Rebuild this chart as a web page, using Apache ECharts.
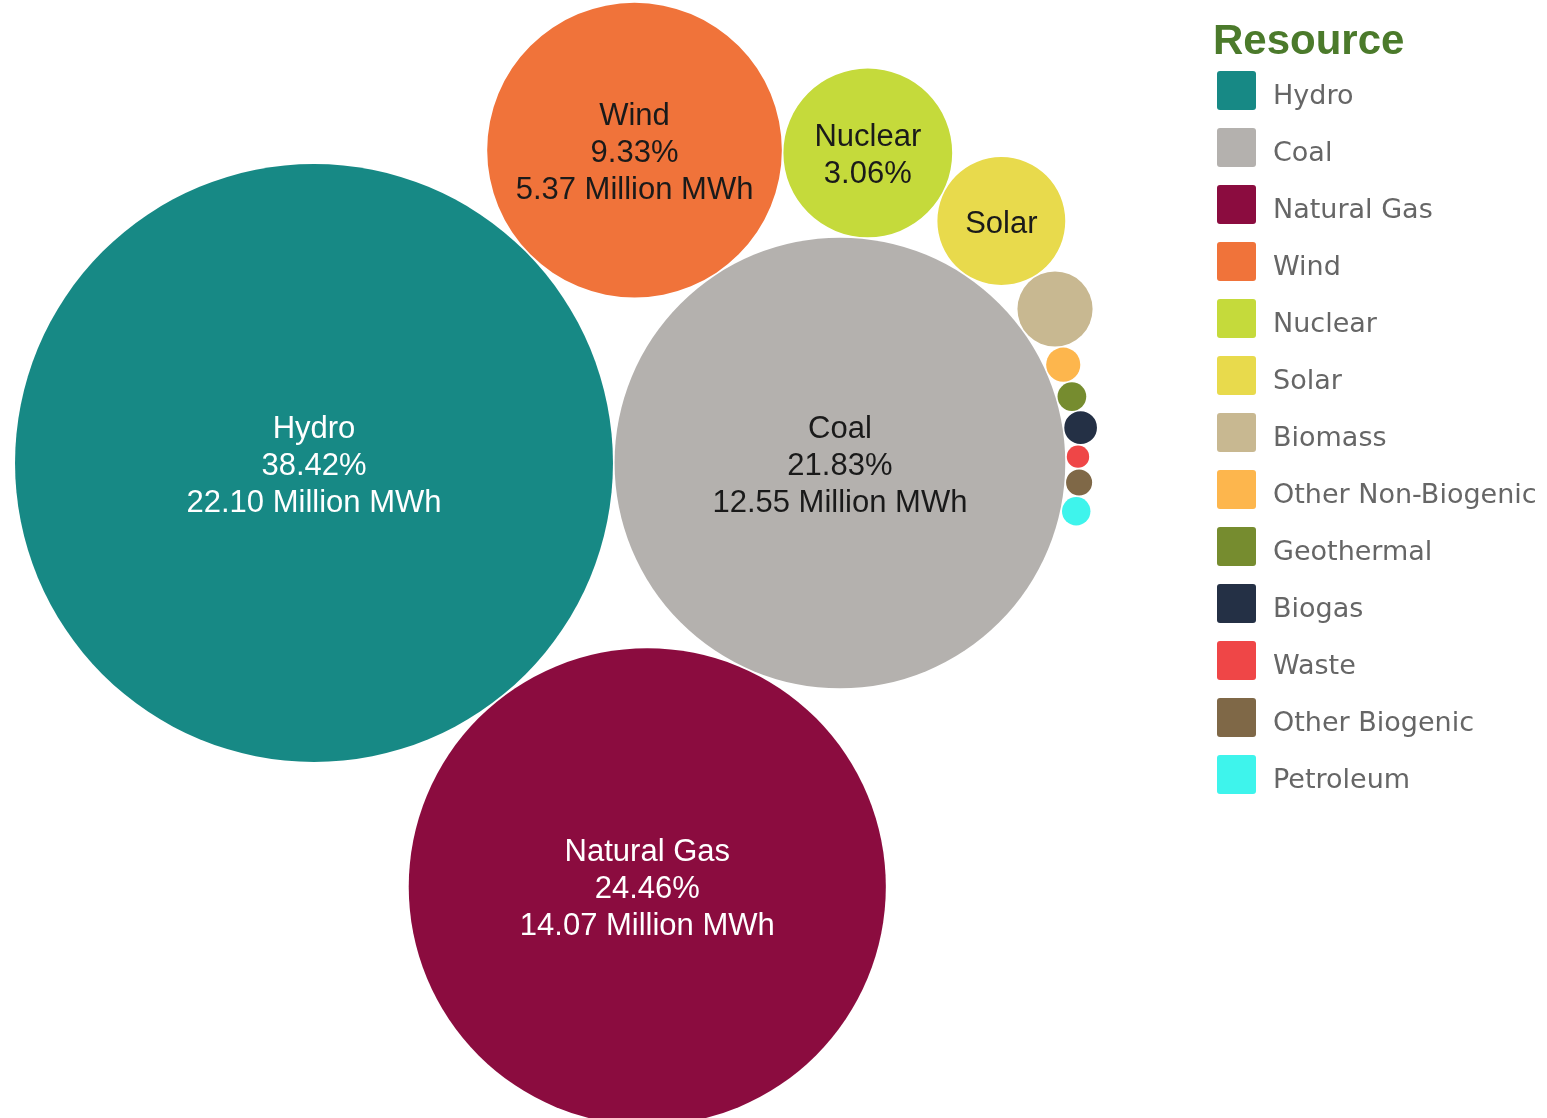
<!DOCTYPE html>
<html>
<head>
<meta charset="utf-8">
<title>Resource</title>
<script src="https://cdn.jsdelivr.net/npm/echarts@6/dist/echarts.min.js"></script>
<style>
  html, body { margin: 0; padding: 0; background: #fff; }
  #bubbles { width: 1547px; height: 1118px; }
</style>
</head>
<body>
<div id="bubbles"></div>
<script>
// generation by resource, million MWh
var names = ['Hydro', 'Coal', 'Natural Gas', 'Wind', 'Nuclear', 'Solar', 'Biomass',
  'Other Non-Biogenic', 'Geothermal', 'Biogas', 'Waste', 'Other Biogenic', 'Petroleum']
var values = [22.098, 12.554, 14.069, 5.366, 1.760, 1.010, 0.349, 0.072, 0.051, 0.066, 0.031, 0.042, 0.050]
var colors = ['#178985', '#b4b1ae', '#8b0c3f', '#f0733a', '#c5da3b', '#e8da4c', '#c8b891',
  '#fdb64d', '#768c2f', '#243045', '#ef4647', '#7f6847', '#3ef4ec']

var total = values.reduce(function (s, v) { return s + v }, 0)

// layout: pixels per unit of sqrt(value), gap between bubbles
var scale = 63.6
var pad = 0.8 / scale

// place c tangent to p and q, on one side of p->q
function place(p, q, r, side) {
  var dx = q.x - p.x, dy = q.y - p.y, d = Math.sqrt(dx * dx + dy * dy)
  var a = p.r + r, b = q.r + r
  var t = (a * a - b * b + d * d) / (2 * d)
  var h = Math.sqrt(Math.max(0, a * a - t * t))
  return { x: p.x + (t * dx - side * h * dy) / d, y: p.y + (t * dy + side * h * dx) / d, r: r }
}

// simple front-chain packing: first two side by side, third below,
// the rest going round the second circle
var circles = []
values.forEach(function (v, i) {
  var r = Math.sqrt(v) + pad
  if (i === 0) circles.push({ x: 0, y: 0, r: r })
  else if (i === 1) circles.push({ x: circles[0].r + r, y: 0, r: r })
  else if (i === 2) circles.push(place(circles[0], circles[1], r, 1))
  else if (i === 3) circles.push(place(circles[0], circles[1], r, -1))
  else circles.push(place(circles[i - 1], circles[1], r, -1))
})

var myChart = echarts.init(document.getElementById('bubbles'))

function renderBubble(params, api) {
  var c = api.coord([api.value(0), api.value(1)])
  var r = api.size([Math.sqrt(api.value(2)), 0])[0]
  var i = params.seriesIndex
  var v = values[i]
  var lines = []
  if (r > 50) lines.push(names[i])
  if (r > 75) lines.push((v / total * 100).toFixed(2) + '%')
  if (r > 120) lines.push(v.toFixed(2) + ' Million MWh')
  var dark = (i === 0 || i === 2)
  return {
    type: 'group',
    children: [
      { type: 'circle', shape: { cx: c[0], cy: c[1], r: r }, style: { fill: api.visual('color') } },
      {
        type: 'text',
        style: {
          text: lines.join('\n'),
          x: c[0], y: c[1] + 3,
          align: 'center', verticalAlign: 'middle',
          fill: dark ? '#ffffff' : '#1a1a1a',
          fontSize: 31, lineHeight: 37,
          fontFamily: '"Liberation Sans", Arial, sans-serif'
        }
      }
    ]
  }
}

var series = names.map(function (name, i) {
  return {
    name: name,
    type: 'custom',
    coordinateSystem: 'cartesian2d',
    itemStyle: { color: colors[i] },
    renderItem: renderBubble,
    data: [[circles[i].x, circles[i].y, values[i]]]
  }
})

var hydroX = 314, hydroY = 463
myChart.setOption({
  animation: false,
  title: {
    text: 'Resource',
    left: 1208, top: 16,
    textStyle: { fontSize: 42, fontWeight: 'bold', color: '#4b7a2b', fontFamily: '"Liberation Sans", Arial, sans-serif' }
  },
  legend: {
    orient: 'vertical',
    left: 1217, top: 71,
    icon: 'path://M3,0H36A3,3,0,0,1,39,3V36A3,3,0,0,1,36,39H3A3,3,0,0,1,0,36V3A3,3,0,0,1,3,0Z',
    itemWidth: 39, itemHeight: 39, itemGap: 18,
    padding: 0,
    formatter: '{t|{name}}',
    textStyle: {
      rich: {
        t: { fontSize: 27, color: '#666666', fontFamily: '"DejaVu Sans", sans-serif', padding: [12, 0, 0, 12] }
      }
    },
    data: names
  },
  grid: { left: 0, top: 0, width: 1547, height: 1118 },
  xAxis: { type: 'value', show: false, min: -hydroX / scale, max: (1547 - hydroX) / scale },
  yAxis: { type: 'value', show: false, inverse: true, min: -hydroY / scale, max: (1118 - hydroY) / scale },
  series: series
})
</script>
</body>
</html>
